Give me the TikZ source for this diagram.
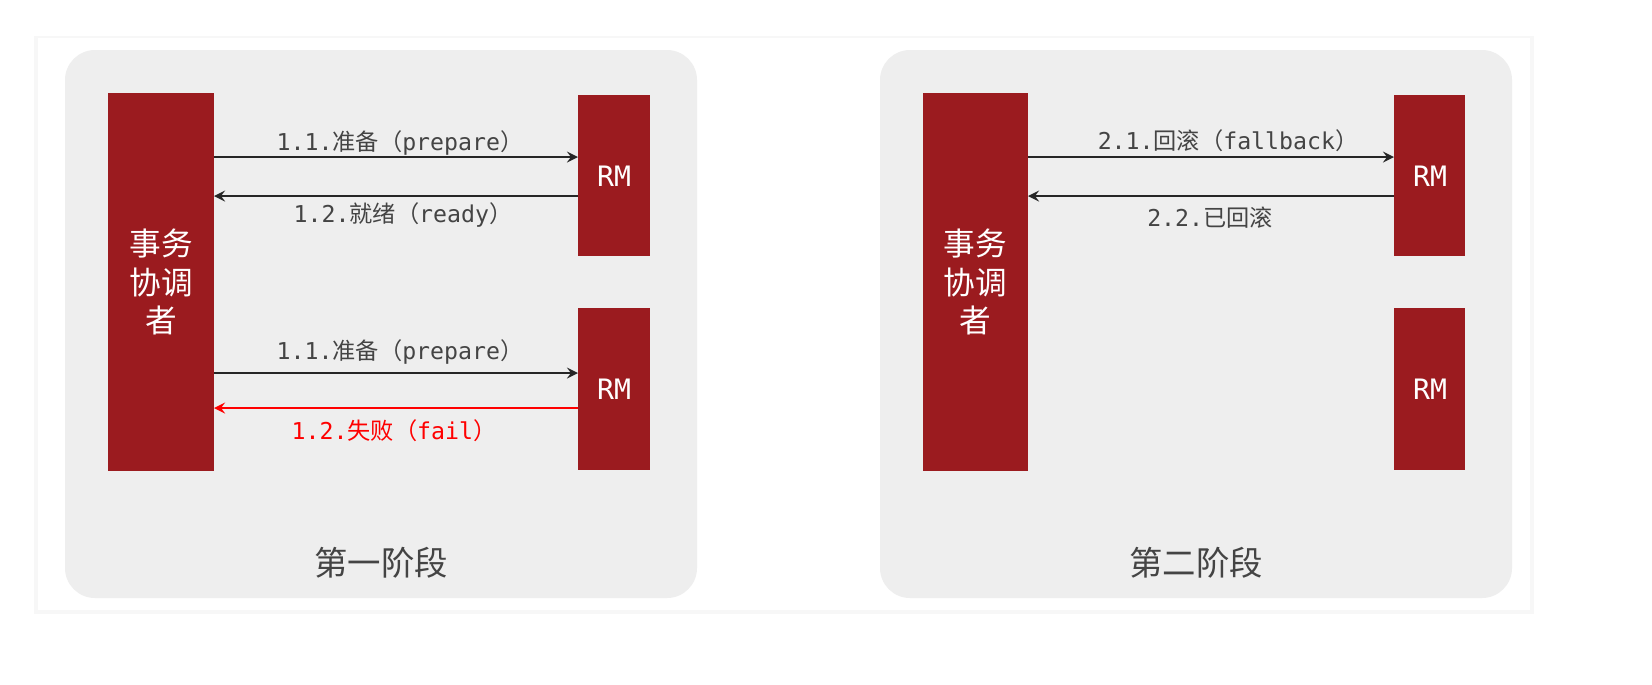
\documentclass[tikz,border=0pt]{standalone}
\usepackage{fontspec}
\setmonofont{DejaVu Sans Mono}
\newfontfamily\cjk{Noto Sans CJK SC}
\definecolor{panelgray}{HTML}{EEEEEE}
\definecolor{boxred}{HTML}{9B1B1F}
\definecolor{msggray}{HTML}{444444}
\newcommand{\lbl}[3]{{\ttfamily #1}{\cjk #2（}{\ttfamily #3}{\cjk ）}}
\begin{document}
\begin{tikzpicture}[x=0.01cm,y=-0.01cm,>=stealth,
  panel/.style={fill=panelgray,rounded corners=0.3cm},
  coord/.style={fill=boxred},
  rmbox/.style={fill=boxred},
  boxtext/.style={text=white,font=\cjk\fontsize{9pt}{11pt}\selectfont,align=center},
  rmtext/.style={text=white,font=\ttfamily\fontsize{8pt}{9pt}\selectfont},
  msgtext/.style={text=msggray,font=\fontsize{6.6pt}{8pt}\selectfont},
  failtext/.style={text=red,font=\fontsize{6.6pt}{8pt}\selectfont},
  title/.style={text=msggray,font=\cjk\fontsize{9.5pt}{11pt}\selectfont},
  msgline/.style={->,thin,black!85}]
\useasboundingbox (0,0) rectangle (1652,684);
% card
\fill[black!3] (34,36) rectangle (1534,614);
\fill[white] (38,38) rectangle (1530,610);
% first phase
\fill[panel] (65,50) rectangle (697,598);
\fill[coord] (108,93) rectangle (214,471);
\node[boxtext] (tc1) at (161,282) {事务\\协调\\者};
\fill[rmbox] (578,95) rectangle (650,256);
\node[rmtext] (rma) at (614,176) {RM};
\fill[rmbox] (578,308) rectangle (650,470);
\node[rmtext] (rmb) at (614,389) {RM};
\coordinate (a1) at (214,157); \coordinate (a2) at (578,157);
\coordinate (b1) at (214,196); \coordinate (b2) at (578,196);
\coordinate (c1) at (214,373); \coordinate (c2) at (578,373);
\coordinate (d1) at (214,408); \coordinate (d2) at (578,408);
\draw[msgline] (a1) -- (a2);
\draw[msgline] (b2) -- (b1);
\draw[msgline] (c1) -- (c2);
\draw[msgline,red] (d2) -- (d1);
\node[msgtext] (l11) at (400,143) {\lbl{1.1.}{准备}{prepare}};
\node[msgtext] (l12) at (403,215) {\lbl{1.2.}{就绪}{ready}};
\node[msgtext] (l13) at (400,352) {\lbl{1.1.}{准备}{prepare}};
\node[failtext] (l14) at (394,431) {\lbl{1.2.}{失败}{fail}};
\node[title] (t1) at (381,563) {第一阶段};
% second phase
\fill[panel] (880,50) rectangle (1512,598);
\fill[coord] (923,93) rectangle (1028,471);
\node[boxtext] (tc2) at (975,282) {事务\\协调\\者};
\fill[rmbox] (1394,95) rectangle (1465,256);
\node[rmtext] (rmc) at (1430,176) {RM};
\fill[rmbox] (1394,308) rectangle (1465,470);
\node[rmtext] (rmd) at (1430,389) {RM};
\coordinate (e1) at (1028,157); \coordinate (e2) at (1394,157);
\coordinate (f1) at (1028,196); \coordinate (f2) at (1394,196);
\draw[msgline] (e1) -- (e2);
\draw[msgline] (f2) -- (f1);
\node[msgtext] (l21) at (1228,141) {\lbl{2.1.}{回滚}{fallback}};
\node[msgtext] (l22) at (1210,218) {{\ttfamily 2.2.}{\cjk 已回滚}};
\node[title] (t2) at (1196,563) {第二阶段};
\end{tikzpicture}
\end{document}
